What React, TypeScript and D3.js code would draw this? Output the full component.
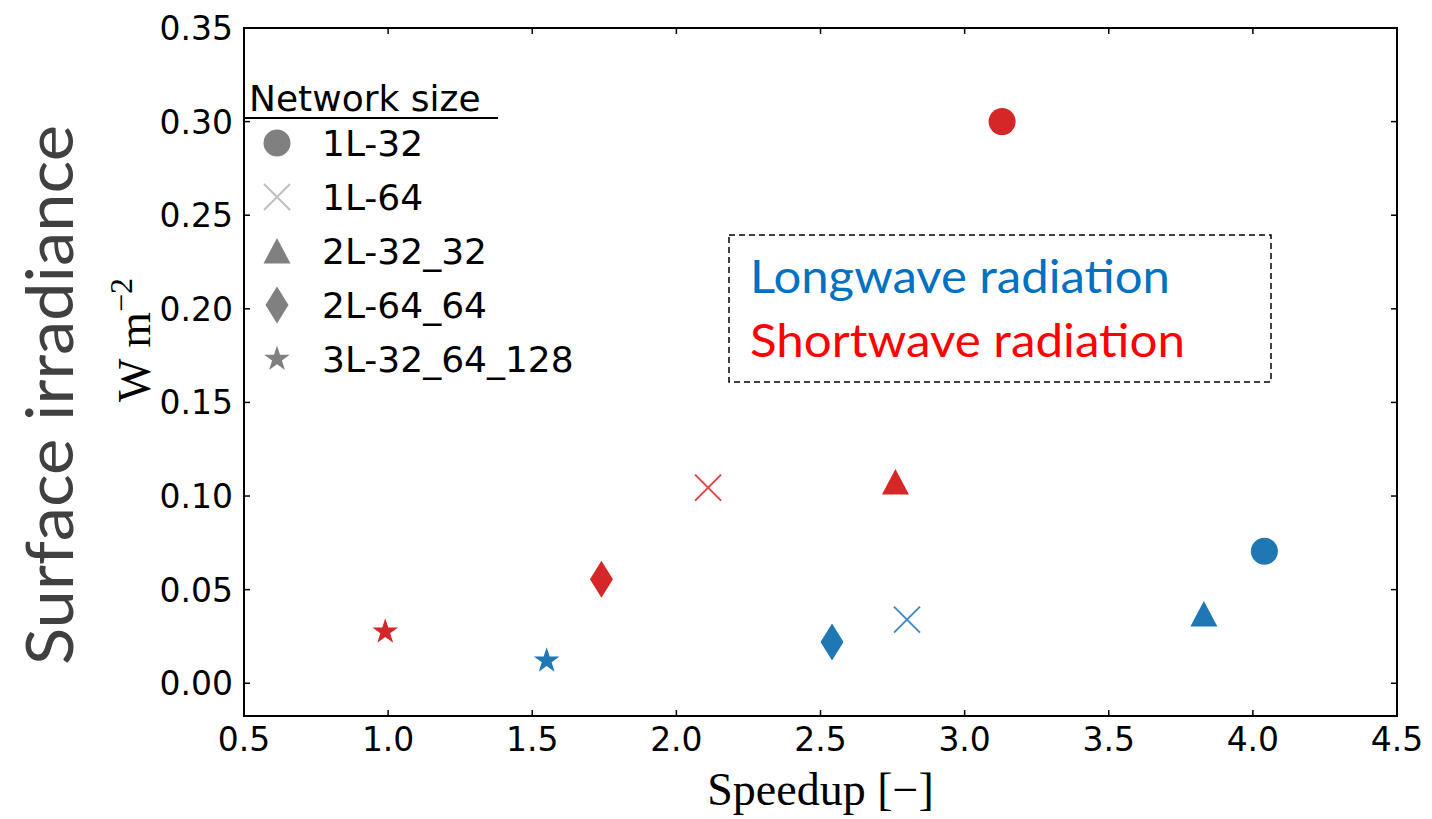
import React, { useRef, useEffect } from "react";
import * as d3 from "d3";

// network sizes and marker shapes
const categories = ["1L-32", "1L-64", "2L-32_32", "2L-64_64", "3L-32_64_128"];
const markers = ["circle", "x", "triangle", "diamond", "star"];

// longwave (blue) and shortwave (red) results
const lwSpeedup = [4.04, 2.8, 3.83, 2.54, 1.55];
const lwError = [0.0705, 0.034, 0.037, 0.022, 0.012];
const swSpeedup = [3.13, 2.11, 2.76, 1.74, 0.99];
const swError = [0.3, 0.1045, 0.1075, 0.0555, 0.0275];

const xTicks = [0.5, 1.0, 1.5, 2.0, 2.5, 3.0, 3.5, 4.0, 4.5];
const yTicks = [0.0, 0.05, 0.1, 0.15, 0.2, 0.25, 0.3, 0.35];

const BLUE = "#1f77b4";
const RED = "#d62728";

const markerPath = (type: string) => {
  const p = d3.path();
  if (type === "circle") {
    p.arc(0, 0, 13.5, 0, Math.PI * 2);
  } else if (type === "x") {
    p.moveTo(-13, -13);
    p.lineTo(13, 13);
    p.moveTo(-13, 13);
    p.lineTo(13, -13);
  } else if (type === "triangle") {
    p.moveTo(0, -13);
    p.lineTo(13.5, 12.5);
    p.lineTo(-13.5, 12.5);
    p.closePath();
  } else if (type === "diamond") {
    p.moveTo(0, -18.5);
    p.lineTo(11.5, 0);
    p.lineTo(0, 18.5);
    p.lineTo(-11.5, 0);
    p.closePath();
  } else if (type === "star") {
    const R = 13.5;
    const r = R * 0.382;
    for (let i = 0; i < 10; i++) {
      const a = -Math.PI / 2 + (i * Math.PI) / 5;
      const rr = i % 2 === 0 ? R : r;
      if (i === 0) p.moveTo(rr * Math.cos(a), rr * Math.sin(a));
      else p.lineTo(rr * Math.cos(a), rr * Math.sin(a));
    }
    p.closePath();
  }
  return p.toString();
};

const drawMarker = (g: any, type: string, color: string, x: number, y: number, xColor?: string) => {
  const m = g
    .append("path")
    .attr("d", markerPath(type))
    .attr("transform", `translate(${x},${y})`);
  if (type === "x") {
    m.attr("fill", "none")
      .attr("stroke", xColor || color)
      .attr("stroke-width", 2)
      .attr("opacity", 0.85);
  } else {
    m.attr("fill", color);
  }
};

const App = () => {
  const svgRef = useRef<SVGSVGElement>(null);
  const width = 1432;
  const height = 819;

  useEffect(() => {
    const svg = d3.select(svgRef.current);
    svg.selectAll("*").remove();

    const left = 244;
    const right = 1397;
    const top = 28;
    const bottom = 716;

    // scales
    const xScale = d3.scaleLinear().domain([0.5, 4.5]).range([left, right]);
    const yScale = d3.scaleLinear().domain([-0.0175, 0.35]).range([bottom, top]);

    const tickFont = "DejaVu Sans";

    // ticks (inside, on all sides)
    const ticks = svg.append("g").attr("stroke", "#000").attr("stroke-width", 1.5);
    xTicks.forEach((t) => {
      const x = xScale(t);
      ticks.append("line").attr("x1", x).attr("x2", x).attr("y1", bottom).attr("y2", bottom - 6);
      ticks.append("line").attr("x1", x).attr("x2", x).attr("y1", top).attr("y2", top + 6);
    });
    yTicks.forEach((t) => {
      const y = yScale(t);
      ticks.append("line").attr("x1", left).attr("x2", left + 6).attr("y1", y).attr("y2", y);
      ticks.append("line").attr("x1", right).attr("x2", right - 6).attr("y1", y).attr("y2", y);
    });

    // tick labels
    svg
      .append("g")
      .selectAll("text")
      .data(xTicks)
      .join("text")
      .attr("x", (d) => xScale(d))
      .attr("y", 751)
      .attr("text-anchor", "middle")
      .attr("font-family", tickFont)
      .attr("font-size", 33)
      .text((d) => d3.format(".1f")(d));

    svg
      .append("g")
      .selectAll("text")
      .data(yTicks)
      .join("text")
      .attr("x", 233)
      .attr("y", (d) => yScale(d) + 12)
      .attr("text-anchor", "end")
      .attr("font-family", tickFont)
      .attr("font-size", 33)
      .text((d) => d3.format(".2f")(d));

    // frame
    svg
      .append("rect")
      .attr("x", left)
      .attr("y", top)
      .attr("width", right - left)
      .attr("height", bottom - top)
      .attr("fill", "none")
      .attr("stroke", "#000")
      .attr("stroke-width", 2);

    // data points
    const pts = svg.append("g");
    markers.forEach((m, i) => {
      drawMarker(pts, m, RED, xScale(swSpeedup[i]), yScale(swError[i]));
      drawMarker(pts, m, BLUE, xScale(lwSpeedup[i]), yScale(lwError[i]));
    });

    // legend
    const leg = svg.append("g");
    leg
      .append("text")
      .attr("x", 249)
      .attr("y", 111)
      .attr("font-family", tickFont)
      .attr("font-size", 36)
      .text("Network size");
    leg
      .append("line")
      .attr("x1", 244)
      .attr("x2", 498)
      .attr("y1", 118)
      .attr("y2", 118)
      .attr("stroke", "#000")
      .attr("stroke-width", 2);
    categories.forEach((c, i) => {
      const y = 143 + i * 54;
      drawMarker(leg, markers[i], "#808080", 277, y, "#b4b4b4");
      leg
        .append("text")
        .attr("x", 322)
        .attr("y", y + 13)
        .attr("font-family", tickFont)
        .attr("font-size", 36)
        .text(c);
    });

    // annotation box
    svg
      .append("rect")
      .attr("x", 729)
      .attr("y", 235)
      .attr("width", 542)
      .attr("height", 147)
      .attr("fill", "none")
      .attr("stroke", "#000")
      .attr("stroke-width", 1.5)
      .attr("stroke-dasharray", "6,4");
    svg
      .append("text")
      .attr("x", 750)
      .attr("y", 293)
      .attr("font-family", "Lato")
      .attr("font-size", 46)
      .attr("fill", "#0070c0")
      .attr("textLength", 420)
      .attr("lengthAdjust", "spacingAndGlyphs")
      .text("Longwave radiation");
    svg
      .append("text")
      .attr("x", 750)
      .attr("y", 357)
      .attr("font-family", "Lato")
      .attr("font-size", 46)
      .attr("fill", "#ff0000")
      .attr("textLength", 435)
      .attr("lengthAdjust", "spacingAndGlyphs")
      .text("Shortwave radiation");

    // axis labels
    svg
      .append("text")
      .attr("x", (left + right) / 2)
      .attr("y", 805)
      .attr("text-anchor", "middle")
      .attr("font-family", "Liberation Serif")
      .attr("font-size", 46)
      .text("Speedup [\u2212]");

    const yl = svg
      .append("text")
      .attr("transform", "translate(150,340) rotate(-90)")
      .attr("text-anchor", "middle")
      .attr("font-family", "Liberation Serif")
      .attr("font-size", 46);
    yl.append("tspan").text("W m");
    yl.append("tspan").attr("dy", -18).attr("font-size", 32).text("\u22122");

    svg
      .append("text")
      .attr("transform", "translate(73,395) rotate(-90)")
      .attr("text-anchor", "middle")
      .attr("font-family", "Lato")
      .attr("font-size", 66)
      .attr("fill", "#404040")
      .attr("textLength", 540)
      .attr("lengthAdjust", "spacingAndGlyphs")
      .text("Surface irradiance");
  }, []);

  return (
    <svg
      ref={svgRef}
      width={width}
      height={height}
      style={{ position: "absolute", left: 0, top: 0, background: "#fff" }}
    />
  );
};

export default App;
